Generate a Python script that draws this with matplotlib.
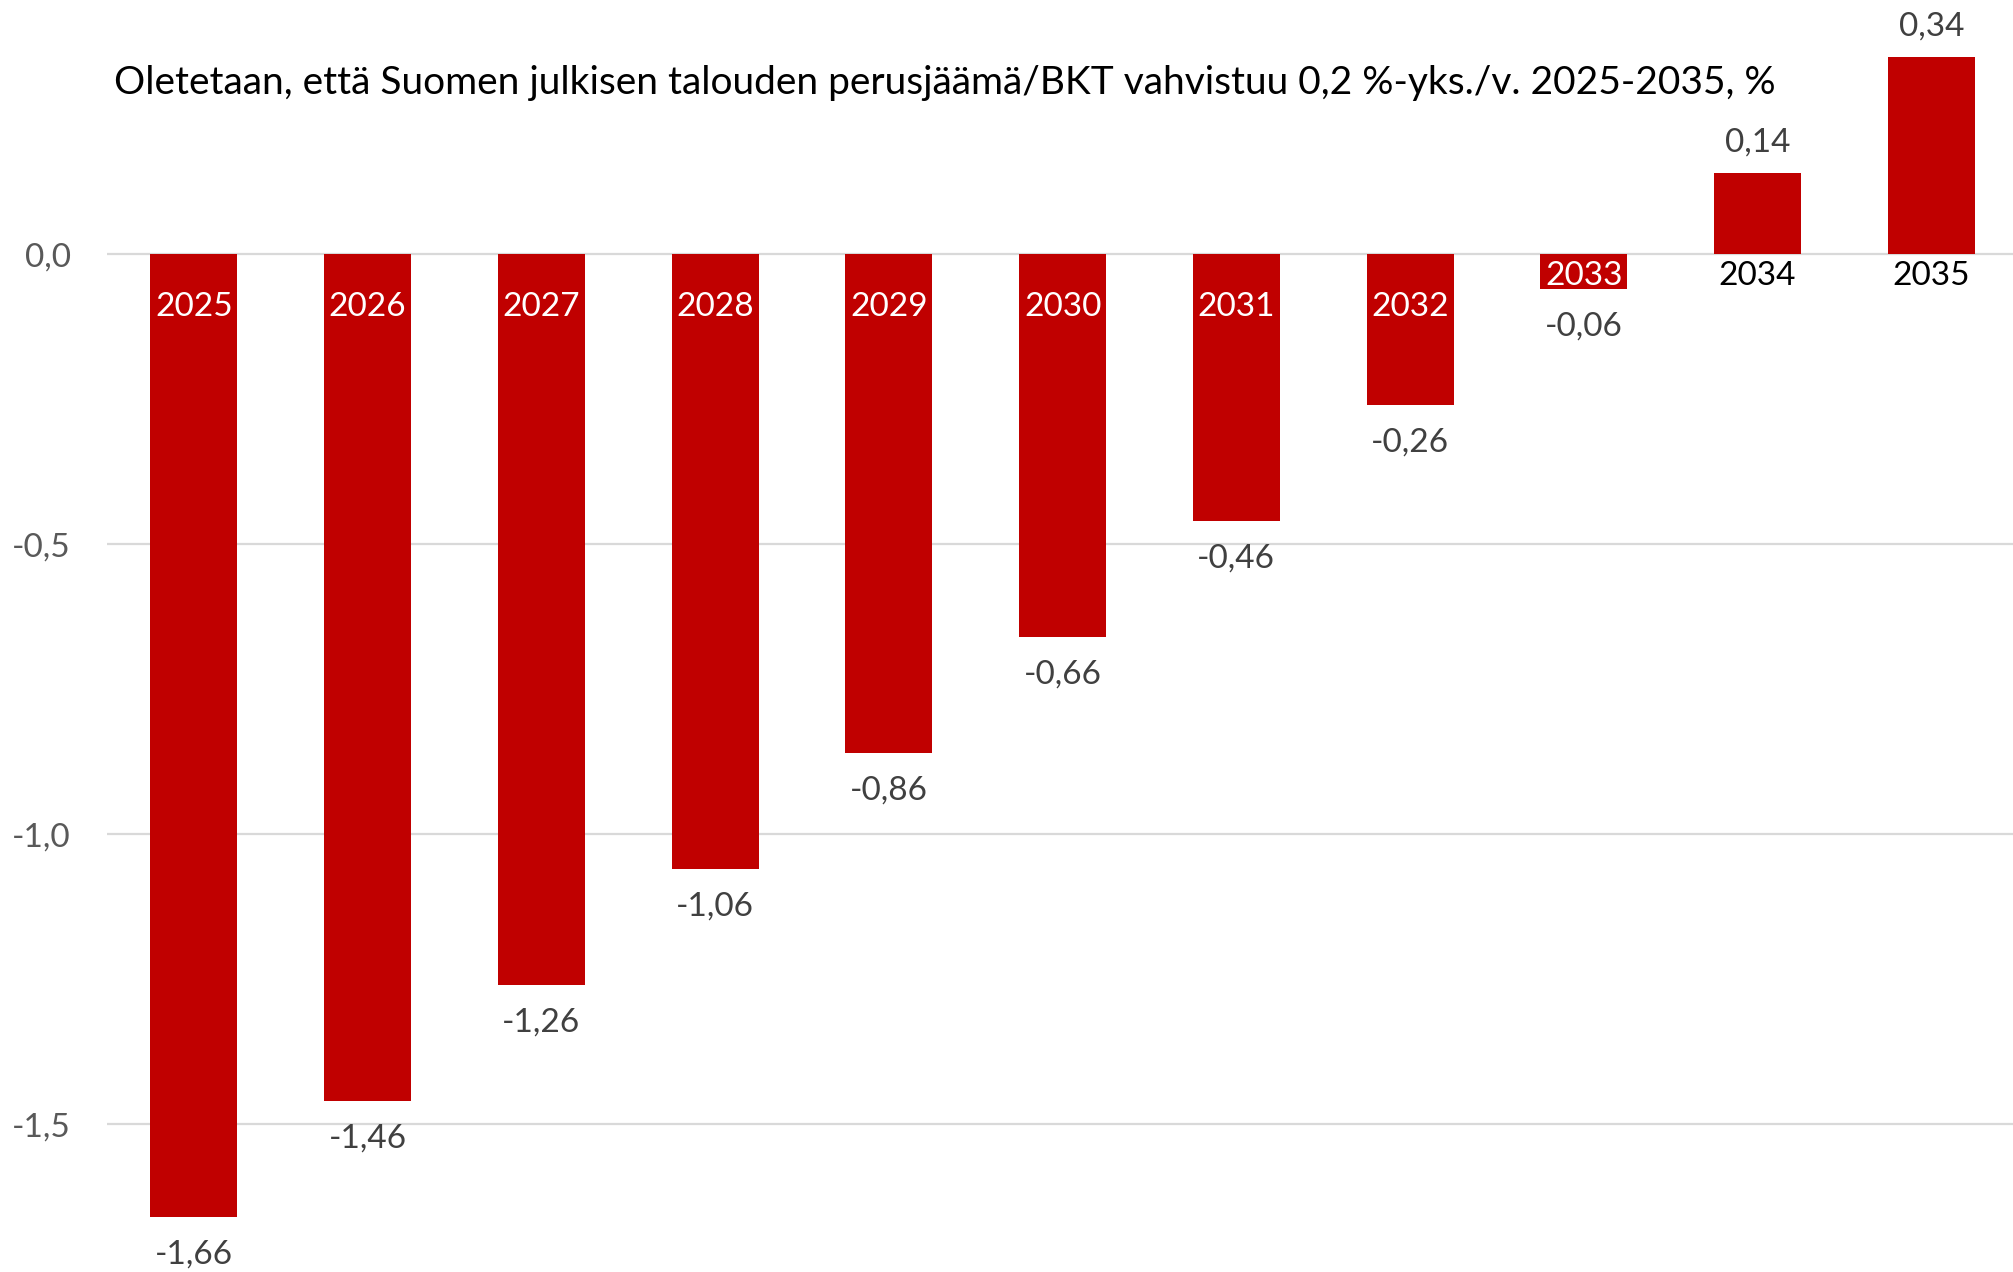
import matplotlib
matplotlib.use("Agg")
import matplotlib.pyplot as plt

years = ["2025", "2026", "2027", "2028", "2029", "2030",
         "2031", "2032", "2033", "2034", "2035"]
values = [-1.66, -1.46, -1.26, -1.06, -0.86, -0.66,
          -0.46, -0.26, -0.06, 0.14, 0.34]
yticks = [0.0, -0.5, -1.0, -1.5]
title = "Oletetaan, että Suomen julkisen talouden perusjäämä/BKT vahvistuu 0,2 %-yks./v. 2025-2035, %"

plt.rcParams["font.family"] = ["Lato", "DejaVu Sans"]

W, H = 2013, 1272
fig = plt.figure(figsize=(W / 100, H / 100), dpi=100)
ax = fig.add_axes([107 / W, 0, 1 - 107 / W, 1])

red = "#c00000"
x = range(len(years))
bars = ax.bar(x, values, width=0.5, color=red, zorder=2)

ax.set_xlim(-0.5, 10.47)
ax.set_ylim(-1.755, 0.438)

for s in ax.spines.values():
    s.set_visible(False)
ax.set_xticks([])
ax.set_yticks(yticks)
ax.set_yticklabels([f"{t:.1f}".replace(".", ",") for t in yticks])
ax.tick_params(axis="y", length=0, pad=26, labelsize=24, labelcolor="#595959")
ax.grid(axis="y", color="#d9d9d9", linewidth=1.6, zorder=0)

for i, (yr, v) in enumerate(zip(years, values)):
    # value labels outside the bar ends
    lab = f"{v:.2f}".replace(".", ",")
    off = 22 if v > 0 else -27
    ax.annotate(lab, (i, v), xytext=(0, off), textcoords="offset points",
                ha="center", va="center", fontsize=24, color="#404040")
    # year labels near the zero line
    ypos = -0.092 if v < -0.1 else -0.037
    col = "white" if v < 0 else "black"
    ax.text(i, ypos, yr, ha="center", va="center", fontsize=24,
            color=col, zorder=3)

fig.text(114 / W, 1 - 83 / H, title, ha="left", va="center",
         fontsize=28, color="black")

fig.savefig("out.png", dpi=100)
